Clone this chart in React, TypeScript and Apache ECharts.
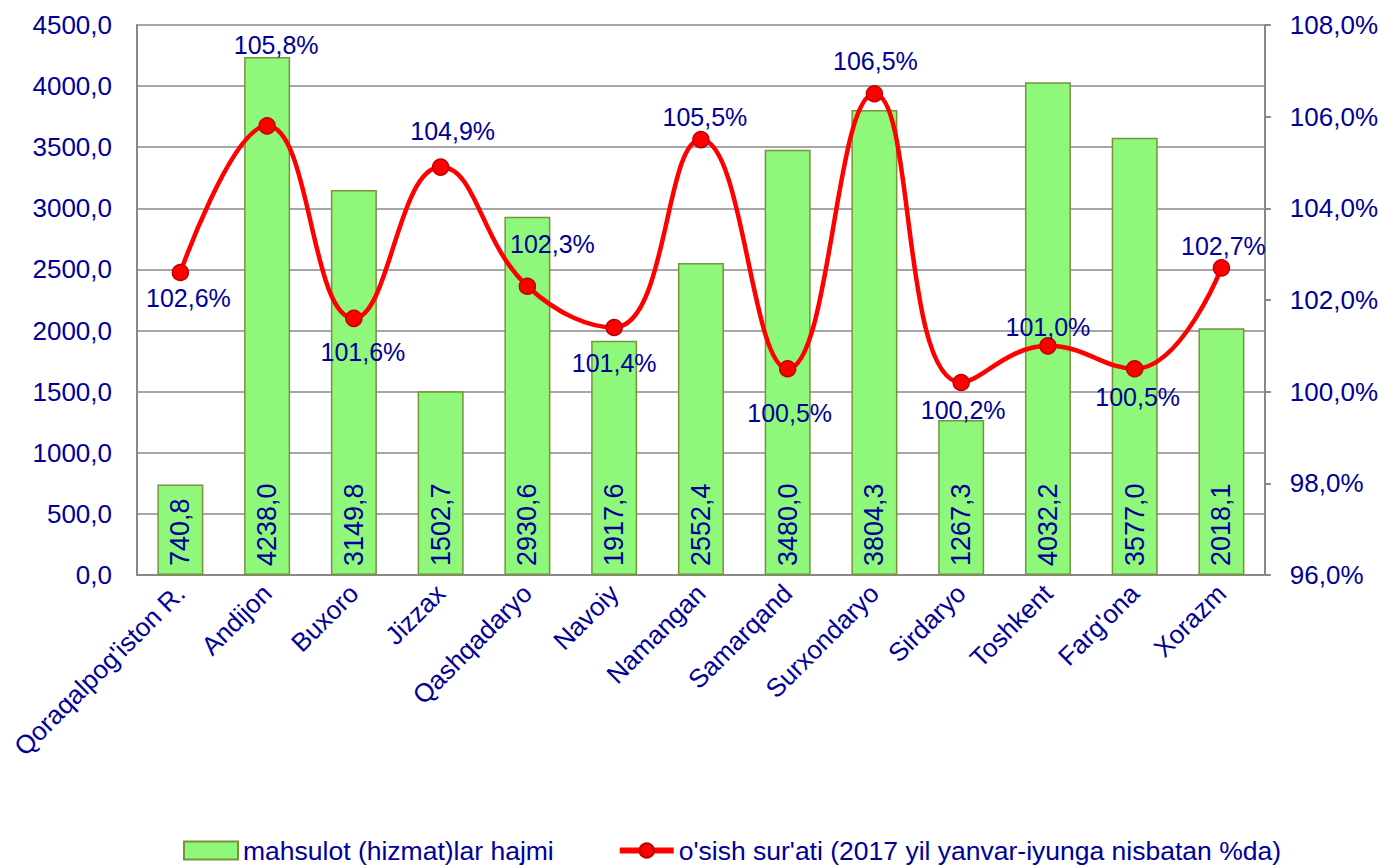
import React, { useEffect, useRef } from "react";
import * as echarts from "echarts";

const categories = [
  "Qoraqalpog'iston R.", "Andijon", "Buxoro", "Jizzax", "Qashqadaryo", "Navoiy",
  "Namangan", "Samarqand", "Surxondaryo", "Sirdaryo", "Toshkent", "Farg'ona", "Xorazm",
];
const volumes = [740.8, 4238.0, 3149.8, 1502.7, 2930.6, 1917.6, 2552.4, 3480.0, 3804.3, 1267.3, 4032.2, 3577.0, 2018.1];
const growth = [102.6, 105.8, 101.6, 104.9, 102.3, 101.4, 105.5, 100.5, 106.5, 100.2, 101.0, 100.5, 102.7];
const labelOffsets: [number, number][] = [
  [8, 25], [9, -81], [9, 34], [12, -36], [25, -42], [0, 35], [4, -23],
  [2, 44], [1, -33], [2, 27], [0, -19], [3, 28], [2, -22],
];
const barName = "mahsulot (hizmat)lar hajmi";
const lineName = "o'sish sur'ati (2017 yil yanvar-iyunga nisbatan %da)";

const BLUE = "#000099";
const FONT = "Arial, 'Liberation Sans', sans-serif";
const fmt = (v: number, d = 1) => v.toFixed(d).replace(".", ",");

export default function App() {
  const ref = useRef<HTMLDivElement>(null);
  useEffect(() => {
    if (!ref.current) return;
    const chart = echarts.init(ref.current, null, { renderer: "svg" });
    chart.setOption({
      animation: false,
      textStyle: { fontFamily: FONT },
      grid: { left: 137, right: 115, top: 25, bottom: 290, containLabel: false },
      legend: {
        bottom: 1,
        left: 183,
        padding: 0,
        itemGap: 63,
        itemWidth: 54,
        itemHeight: 18,
        textStyle: { color: BLUE, fontSize: 26.5, fontFamily: FONT },
        data: [
          { name: barName, icon: "rect", itemStyle: { color: "#8FF77A", borderColor: "#77933C", borderWidth: 2 } },
          { name: lineName, lineStyle: { width: 6 } },
        ],
      },
      xAxis: {
        type: "category",
        data: categories,
        axisLine: { lineStyle: { color: "#888", width: 2 } },
        axisTick: { show: false },
        axisLabel: { rotate: 45, color: BLUE, fontSize: 26, fontFamily: FONT, margin: 14, interval: 0 },
      },
      yAxis: [
        {
          type: "value",
          min: 0,
          max: 4500,
          interval: 500,
          axisLine: { show: true, lineStyle: { color: "#888", width: 2 } },
          axisTick: { show: false },
          splitLine: { lineStyle: { color: "#888", width: 1.5 } },
          axisLabel: { color: BLUE, fontSize: 26, fontFamily: FONT, margin: 25, formatter: (v: number) => fmt(v) },
        },
        {
          type: "value",
          min: 96,
          max: 108,
          interval: 2,
          position: "right",
          axisLine: { show: true, lineStyle: { color: "#888", width: 2 } },
          axisTick: { show: true, length: 6, lineStyle: { color: "#888", width: 2 } },
          splitLine: { show: false },
          axisLabel: { color: BLUE, fontSize: 26, fontFamily: FONT, margin: 25, formatter: (v: number) => fmt(v) + "%" },
        },
      ],
      series: [
        {
          name: barName,
          type: "bar",
          yAxisIndex: 0,
          barWidth: 46,
          data: volumes,
          itemStyle: { color: "#8FF77A", borderColor: "#77933C", borderWidth: 1.5 },
          label: {
            show: true,
            position: "insideBottom",
            rotate: 90,
            align: "left",
            verticalAlign: "middle",
            distance: 9,
            color: BLUE,
            fontSize: 27,
            fontFamily: FONT,
            formatter: (p: any) => fmt(p.value),
          },
        },
        {
          name: lineName,
          type: "line",
          yAxisIndex: 1,
          smooth: 0.45,
          symbol: "circle",
          symbolSize: 16,
          lineStyle: { color: "#FF0000", width: 4.5 },
          itemStyle: { color: "#FF0000", borderColor: "#C00000", borderWidth: 1.5 },
          data: growth.map((v, i) => ({
            value: v,
            label: {
              show: true,
              position: "inside",
              offset: labelOffsets[i],
              color: BLUE,
              fontSize: 25,
              fontFamily: FONT,
              formatter: () => fmt(v) + "%",
            },
          })),
          z: 5,
        },
      ],
    });
    return () => chart.dispose();
  }, []);
  return <div ref={ref} style={{ width: 1381, height: 865, position: "absolute", left: 0, top: 0, background: "#fff" }} />;
}
